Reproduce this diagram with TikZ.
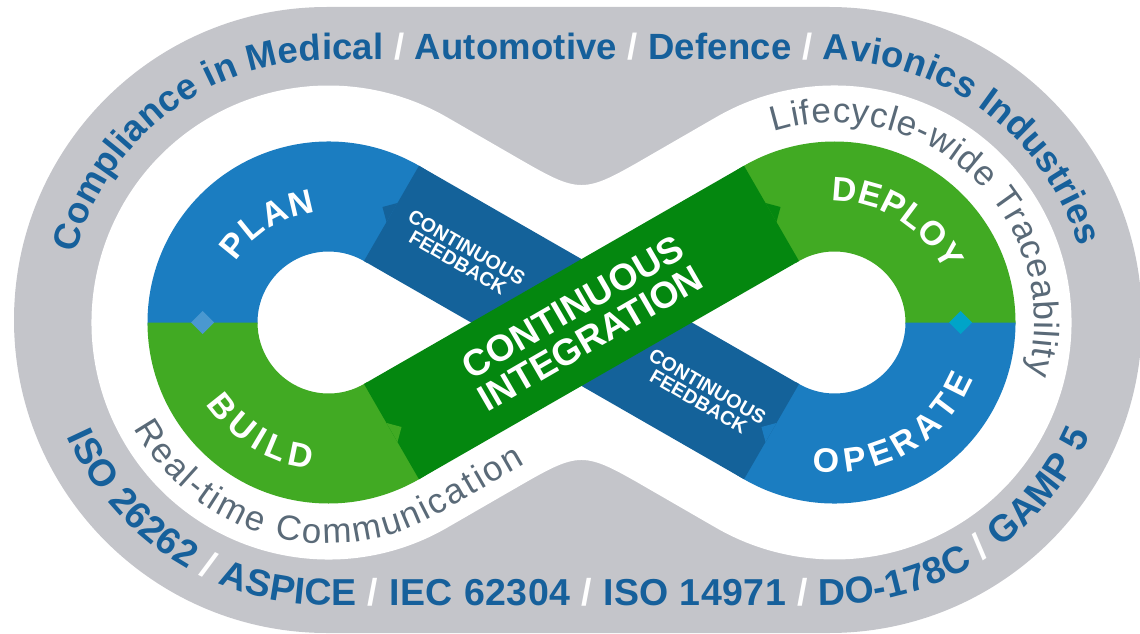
\documentclass[tikz,border=0pt]{standalone}
\usepackage{fontspec}
\setmainfont{Liberation Sans}
\usetikzlibrary{calc,decorations.text}
\definecolor{graybg}{HTML}{C4C5CA}
\definecolor{outerblue}{HTML}{16609B}
\definecolor{ribblue}{HTML}{1B7DC1}
\definecolor{cfblue}{HTML}{14629A}
\definecolor{ribgreen}{HTML}{41AA23}
\definecolor{cigreen}{HTML}{04870F}
\definecolor{innergray}{HTML}{5A6A78}
\definecolor{diaL}{HTML}{4A98D0}
\definecolor{diaR}{HTML}{00A4C8}
\newcommand\topfont{\fontsize{36.5}{40}\selectfont\bfseries}
\newcommand\botfont{\fontsize{37.5}{40}\selectfont\bfseries}
\newcommand\innerfont{\fontsize{35}{40}\selectfont}
\newcommand\labfont{\fontsize{34}{36}\selectfont\bfseries}
\tikzset{
  curvetext/.style={decorate,decoration={text along path,text align={fit to path},text={#1}}},
  bandtext/.style={text=white,align=center,inner sep=0pt},
}
\begin{document}
\begin{tikzpicture}[x=1pt,y=1pt]
\useasboundingbox (0,0) rectangle (1140,633);
\coordinate (OL) at (327,313);
\coordinate (OR) at (829,313);
\coordinate (CL) at (328.5,310.5);
\coordinate (CR) at (834.5,310.5);
\coordinate (M) at (581.5,310.5);
\coordinate (P1) at (513.1,477.6);
\coordinate (VT) at (581.5,438.1);
\coordinate (P2) at (649.9,477.6);
\coordinate (P3) at (649.9,143.4);
\coordinate (VB) at (581.5,182.9);
\coordinate (P4) at (513.1,143.4);

% gray stadium
\fill[graybg] ($(OL)+(90:313)$) -- ($(OR)+(90:313)$) arc[start angle=90,end angle=-90,radius=313]
  -- ($(OL)+(-90:313)$) arc[start angle=270,end angle=90,radius=313] -- cycle;
% white inner figure
\fill[white] ($(CL)+(60:237)$) -- (P1) .. controls (VT) .. (P2) -- ($(CR)+(120:237)$)
  arc[start angle=120,end angle=-120,radius=237] -- (P3) .. controls (VB) .. (P4)
  -- ($(CL)+(-60:237)$) arc[start angle=-60,end angle=-300,radius=237] -- cycle;

% lobes
\fill[ribblue] ($(CL)+(57:181)$) arc[start angle=57,end angle=181,radius=181] -- ($(CL)+(181:71)$) arc[start angle=181,end angle=57,radius=71] -- cycle;
\fill[ribgreen] ($(CL)+(180:181)$) arc[start angle=180,end angle=303,radius=181] -- ($(CL)+(303:71)$) arc[start angle=303,end angle=180,radius=71] -- cycle;
\fill[ribgreen] ($(CR)+(-1:181)$) arc[start angle=-1,end angle=123,radius=181] -- ($(CR)+(123:71)$) arc[start angle=123,end angle=-1,radius=71] -- cycle;
\fill[ribblue] ($(CR)+(-123:181)$) arc[start angle=-123,end angle=0,radius=181] -- ($(CR)+(0:71)$) arc[start angle=0,end angle=-123,radius=71] -- cycle;

% continuous feedback band
\fill[cfblue] ($(CL)+(60:181)$) -- ($(CR)+(240:71)$) -- ($(CR)+(240:181)$) -- ($(CL)+(60:71)$) -- cycle;
\fill[cfblue] ($(CL)+(60:138)$) -- ($(CL)+(60:127)+(150:11)$) -- ($(CL)+(60:116)$) -- cycle;
\fill[ribblue] ($(CR)+(-120:138)$) -- ($(CR)+(-120:127)+(150:11)$) -- ($(CR)+(-120:116)$) -- cycle;
% continuous integration band
\fill[cigreen] ($(CL)+(-60:181)$) -- ($(CR)+(120:71)$) -- ($(CR)+(120:181)$) -- ($(CL)+(-60:71)$) -- cycle;
\fill[cigreen] ($(CR)+(120:138)$) -- ($(CR)+(120:127)+(30:11)$) -- ($(CR)+(120:116)$) -- cycle;
\fill[ribgreen] ($(CL)+(-60:138)$) -- ($(CL)+(-60:127)+(30:11)$) -- ($(CL)+(-60:116)$) -- cycle;

% diamonds
\fill[diaL] ($(CL)+(180:126)+(0,11.5)$) -- ++(11.5,-11.5) -- ++(-11.5,-11.5) -- ++(-11.5,11.5) -- cycle;
\fill[diaR] ($(CR)+(0:126)+(0,11.5)$) -- ++(11.5,-11.5) -- ++(-11.5,-11.5) -- ++(-11.5,11.5) -- cycle;

% ribbon labels
\path[curvetext={|\labfont\color{white}|PLAN}] ($(CL)+(146.7:111)$) arc[start angle=146.7,end angle=96.7,radius=111];
\path[curvetext={|\labfont\color{white}|BUILD}] ($(CL)+(213.8:147)$) arc[start angle=213.8,end angle=263.2,radius=147];
\path[curvetext={|\labfont\color{white}|DEPLOY}] ($(CR)+(91.4:121)$) arc[start angle=91.4,end angle=24.8,radius=121];
\path[curvetext={|\labfont\color{white}|OPERATE}] ($(CR)+(261.7:150)$) arc[start angle=261.7,end angle=337.7,radius=150];

\node[bandtext,rotate=30,font=\fontsize{37}{36}\selectfont\bfseries] (ci) at (M) {CONTINUOUS\\INTEGRATION};
\node[bandtext,rotate=-30,font=\fontsize{19.5}{17.5}\selectfont\bfseries] (cf1) at ($(M)+(150.5:137)$) {CONTINUOUS\\FEEDBACK};
\node[bandtext,rotate=-30,font=\fontsize{19.5}{17.5}\selectfont\bfseries] (cf2) at ($(M)+(-30.5:141)$) {CONTINUOUS\\FEEDBACK};

% inner gray texts
\path[curvetext={|\innerfont\color{innergray}|Lifecycle-wide Traceability}] ($(CR)+(107.6:200)$) arc[start angle=107.6,end angle=-15,radius=200];
\path[curvetext={|\innerfont\color{innergray}|Real-time Communication}] ($(CL)+(208.5:221)$) arc[start angle=208.5,end angle=300,radius=221] -- ++(30:100);

% outer texts
\path[curvetext={|\topfont\color{outerblue}|Compliance in Medical |\topfont\color{white}|/|\topfont\color{outerblue}| Automotive |\topfont\color{white}|/|\topfont\color{outerblue}| Defence |\topfont\color{white}|/|\topfont\color{outerblue}| Avionics Industries}]
  ($(OL)+(165.1:260)$) arc[start angle=165.1,end angle=90,radius=260] -- ($(OR)+(90:260)$) arc[start angle=90,end angle=16.4,radius=260];
\path[curvetext={|\botfont\color{outerblue}|ISO 26262 |\botfont\color{white}|/|\botfont\color{outerblue}| ASPICE |\botfont\color{white}|/|\botfont\color{outerblue}| IEC 62304 |\botfont\color{white}|/|\botfont\color{outerblue}| ISO 14971 |\botfont\color{white}|/|\botfont\color{outerblue}| DO-178C |\botfont\color{white}|/|\botfont\color{outerblue}| GAMP 5}]
  ($(OL)+(204.1:285)$) arc[start angle=204.1,end angle=270,radius=285] -- ($(OR)+(270:285)$) arc[start angle=270,end angle=336.3,radius=285];
\end{tikzpicture}
\end{document}
